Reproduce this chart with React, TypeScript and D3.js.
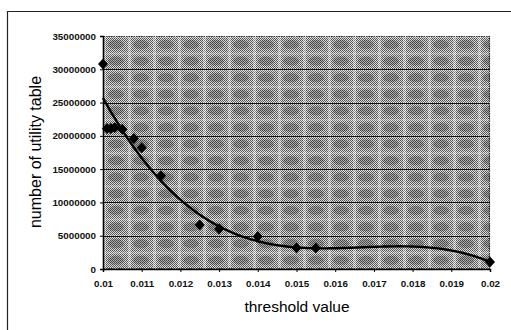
import React, { useEffect, useRef } from "react";
import { axisBottom, axisLeft, format, line, range, scaleLinear, select } from "d3";

// threshold value vs number of utility table
const thresholds = [0.01, 0.0101, 0.0102, 0.0103, 0.0105, 0.0108, 0.011, 0.0115, 0.0125, 0.013, 0.014, 0.015, 0.0155, 0.02];
const utilityTables = [30.8e6, 21.1e6, 21.1e6, 21.2e6, 21.0e6, 19.6e6, 18.2e6, 14.0e6, 6.6e6, 6.0e6, 4.9e6, 3.15e6, 3.15e6, 1.05e6];
const yTicks = [0, 5e6, 10e6, 15e6, 20e6, 25e6, 30e6, 35e6];
const xTicks = [0.01, 0.011, 0.012, 0.013, 0.014, 0.015, 0.016, 0.017, 0.018, 0.019, 0.02];
const TREND_ORDER = 3;

// least squares polynomial, x normalised around the middle of the axis
function polyFit(xs: number[], ys: number[], order: number) {
  const n = order + 1;
  const tx = xs.map((x) => (x - 0.015) / 0.005);
  const A: number[][] = [];
  for (let i = 0; i < n; i++) {
    A.push([]);
    for (let j = 0; j < n; j++) A[i].push(tx.reduce((s, t) => s + Math.pow(t, i + j), 0));
    A[i].push(tx.reduce((s, t, k) => s + Math.pow(t, i) * ys[k] / 1e6, 0));
  }
  for (let c = 0; c < n; c++) {
    let p = c;
    for (let r = c + 1; r < n; r++) if (Math.abs(A[r][c]) > Math.abs(A[p][c])) p = r;
    [A[c], A[p]] = [A[p], A[c]];
    for (let r = 0; r < n; r++) {
      if (r === c) continue;
      const f = A[r][c] / A[c][c];
      for (let k = c; k <= n; k++) A[r][k] -= f * A[c][k];
    }
  }
  const coef = A.map((row, i) => row[n] / row[i]);
  return (x: number) => {
    const t = (x - 0.015) / 0.005;
    return coef.reduce((s, c, i) => s + c * Math.pow(t, i), 0) * 1e6;
  };
}

export default function App() {
  const svgRef = useRef(null);
  const w = 511;
  const h = 330;
  const plot = { left: 103, right: 490, top: 36, bottom: 269 };

  useEffect(() => {
    const svg = select(svgRef.current);
    svg.selectAll("*").remove();

    const x = scaleLinear().domain([0.01, 0.02]).range([plot.left, plot.right]);
    const y = scaleLinear().domain([0, 35e6]).range([plot.bottom, plot.top]);

    const defs = svg.append("defs");
    const dither = defs.append("pattern")
      .attr("id", "dither").attr("patternUnits", "userSpaceOnUse")
      .attr("width", 2).attr("height", 2);
    dither.append("rect").attr("width", 2).attr("height", 2).attr("fill", "#dcdcdc");
    dither.append("rect").attr("width", 1).attr("height", 1).attr("fill", "#505050");
    dither.append("rect").attr("x", 1).attr("y", 1).attr("width", 1).attr("height", 1).attr("fill", "#5c5c5c");

    const blobs = defs.append("pattern")
      .attr("id", "blobs").attr("patternUnits", "userSpaceOnUse")
      .attr("x", plot.left).attr("y", plot.top)
      .attr("width", 25).attr("height", 16.6);
    blobs.append("ellipse").attr("cx", 13).attr("cy", 8.5).attr("rx", 8).attr("ry", 4.5)
      .attr("fill", "#333").attr("fill-opacity", 0.3);
    blobs.append("rect").attr("x", 0).attr("y", 0).attr("width", 3).attr("height", 16.6)
      .attr("fill", "#fff").attr("fill-opacity", 0.3);
    blobs.append("rect").attr("x", 0).attr("y", 0).attr("width", 25).attr("height", 2)
      .attr("fill", "#fff").attr("fill-opacity", 0.25);

    // outer frame of the figure
    svg.append("path").attr("d", `M7.5,${h} V11.5 H${w}`)
      .attr("fill", "none").attr("stroke", "#222").attr("stroke-width", 1.2);

    const pw = plot.right - plot.left;
    const ph = plot.bottom - plot.top;
    svg.append("rect").attr("x", plot.left).attr("y", plot.top)
      .attr("width", pw).attr("height", ph).attr("fill", "url(#dither)");
    svg.append("rect").attr("x", plot.left).attr("y", plot.top)
      .attr("width", pw).attr("height", ph).attr("fill", "url(#blobs)");

    // gridlines
    svg.append("g").selectAll("line")
      .data(yTicks.slice(1, -1))
      .enter().append("line")
      .attr("x1", plot.left).attr("x2", plot.right)
      .attr("y1", (d) => Math.round(y(d)) + 0.5).attr("y2", (d) => Math.round(y(d)) + 0.5)
      .attr("stroke", "#111").attr("stroke-width", 1);

    svg.append("rect").attr("x", plot.left + 0.5).attr("y", plot.top + 0.5)
      .attr("width", pw - 1).attr("height", ph - 1)
      .attr("fill", "none").attr("stroke", "#333").attr("stroke-width", 1.2)
      .attr("stroke-dasharray", "1.5 1");

    const fmt = format("d");
    const gy = svg.append("g").attr("transform", `translate(${plot.left},0)`)
      .call(axisLeft(y).tickValues(yTicks).tickFormat((d) => fmt(d as number)).tickSize(3).tickPadding(4));
    gy.select(".domain").attr("stroke", "#000").attr("stroke-width", 1.5);
    gy.selectAll("text").attr("font-family", "Liberation Sans, Arial, sans-serif")
      .attr("font-size", 9.8).attr("font-weight", "bold").attr("fill", "#111");

    const gx = svg.append("g").attr("transform", `translate(0,${plot.bottom})`)
      .call(axisBottom(x).tickValues(xTicks).tickFormat((d) => String(+(d as number).toFixed(3))).tickSize(3).tickPadding(8));
    gx.select(".domain").attr("stroke", "#000").attr("stroke-width", 1.5);
    gx.selectAll("text").attr("font-family", "Liberation Sans, Arial, sans-serif")
      .attr("font-size", 9.8).attr("font-weight", "bold").attr("fill", "#111");

    // polynomial trendline
    const trend = polyFit(thresholds, utilityTables, TREND_ORDER);
    const xs = range(0, 201).map((i) => 0.01 + i * 0.00005);
    svg.append("path")
      .attr("d", line<number>().x((d) => x(d)).y((d) => y(trend(d)))(xs))
      .attr("fill", "none").attr("stroke", "#000").attr("stroke-width", 2.4);

    // markers
    svg.append("g").selectAll("path")
      .data(thresholds.map((t, i) => [t, utilityTables[i]]))
      .enter().append("path")
      .attr("d", (d) => {
        const cx = x(d[0]);
        const cy = y(d[1]);
        return `M${cx},${cy - 5.5} L${cx + 5},${cy} L${cx},${cy + 5.5} L${cx - 5},${cy} Z`;
      })
      .attr("fill", "#000");

    svg.append("text").attr("x", 297).attr("y", 312)
      .attr("text-anchor", "middle")
      .attr("font-family", "Liberation Sans, Arial, sans-serif").attr("font-size", 15.5)
      .attr("fill", "#000").text("threshold value");

    svg.append("text").attr("transform", "translate(41,152) rotate(-90)")
      .attr("text-anchor", "middle")
      .attr("font-family", "Liberation Sans, Arial, sans-serif").attr("font-size", 16)
      .attr("fill", "#000").text("number of utility table");
  }, []);

  return (
    <svg
      ref={svgRef}
      width={w}
      height={h}
      style={{ position: "absolute", left: 0, top: 0, background: "#fff" }}
    />
  );
}
